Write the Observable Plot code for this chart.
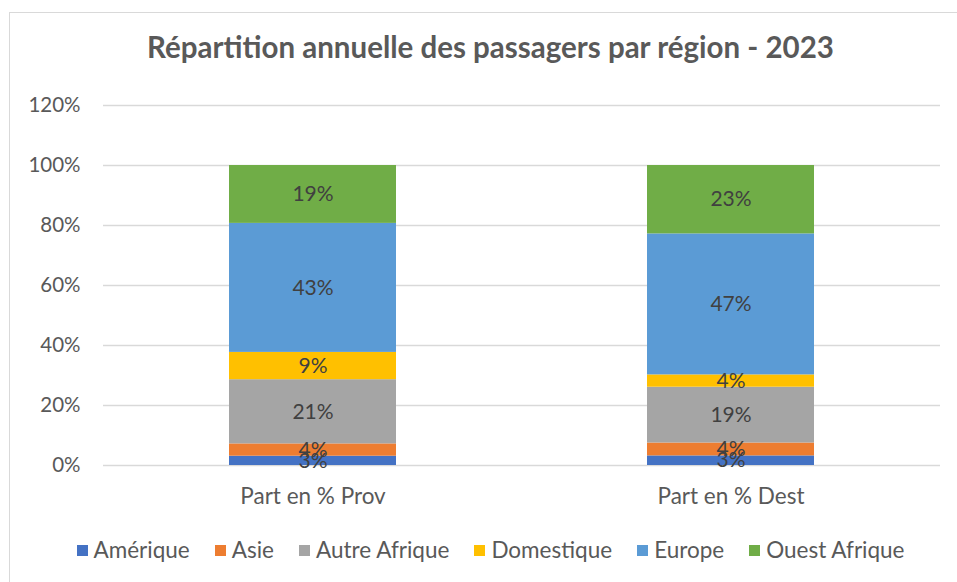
<!DOCTYPE html>
<html>
<head>
<meta charset="utf-8">
<script src="https://cdn.jsdelivr.net/npm/d3@7"></script>
<script src="https://cdn.jsdelivr.net/npm/@observablehq/plot@0.6"></script>
<style>
  html, body { margin: 0; padding: 0; background: #fff; }
  #wrap { position: relative; width: 957px; height: 582px; overflow: hidden; font-family: Lato, "Open Sans", sans-serif; }
  #frame { position: absolute; left: 9px; top: 12px; width: 1000px; height: 1000px; border-left: 1.5px solid #d9d9d9; border-top: 1.5px solid #d9d9d9; }
  #title { position: absolute; left: 0; width: 981px; top: 30px; text-align: center; font-size: 29.5px; line-height: 34px; font-weight: bold; color: #595959; }
  #chart { position: absolute; left: 0; top: 80px; }
  #legend { position: absolute; left: 0; width: 981px; top: 536px; display: flex; justify-content: center; gap: 25px; font-size: 22.5px; line-height: 28px; color: #595959; }
  .item { display: flex; align-items: center; gap: 6px; }
  .sw { width: 11px; height: 11px; display: inline-block; }
</style>
</head>
<body>
<div id="wrap">
  <div id="frame"></div>
  <div id="title">Répartition annuelle des passagers par région - 2023</div>
  <div id="chart"></div>
  <div id="legend"></div>
</div>
<script>
const categories = ["Part en % Prov", "Part en % Dest"];
const regions = ["Amérique", "Asie", "Autre Afrique", "Domestique", "Europe", "Ouest Afrique"];
const colors = ["#4472C4", "#ED7D31", "#A5A5A5", "#FFC000", "#5B9BD5", "#70AD47"];
const provValues = [3.1, 4.1, 21.4, 9.1, 43.0, 19.3];
const destValues = [3.2, 4.3, 18.6, 4.1, 47.0, 22.8];
const labelsProv = ["3%", "4%", "21%", "9%", "43%", "19%"];
const labelsDest = ["3%", "4%", "19%", "4%", "47%", "23%"];
const yTicks = [0, 20, 40, 60, 80, 100, 120];

const data = [];
regions.forEach((r, i) => {
  data.push({cat: categories[0], region: r, value: provValues[i], label: labelsProv[i]});
  data.push({cat: categories[1], region: r, value: destValues[i], label: labelsDest[i]});
});

const chart = Plot.plot({
  width: 957,
  height: 450,
  marginTop: 25,
  marginBottom: 65,
  marginLeft: 103,
  marginRight: 17,
  style: {background: "transparent", fontFamily: "Lato, 'Open Sans', sans-serif", fontSize: "20px", color: "#595959"},
  x: {domain: categories, paddingInner: 0.6, paddingOuter: 0.3, label: null},
  y: {domain: [0, 120], label: null},
  color: {domain: regions, range: colors},
  marks: [
    Plot.gridY(yTicks, {stroke: "#d9d9d9", strokeOpacity: 1, strokeWidth: 1.5}),
    Plot.barY(data, {x: "cat", y: "value", fill: "region", z: "region", order: regions}),
    Plot.text(data, Plot.stackY({x: "cat", y: "value", z: "region", order: regions, text: "label", fill: "#404040", fontSize: 21})),
    Plot.axisX({tickSize: 0, tickPadding: 23, fontSize: 22.5, fill: "#595959"}),
    Plot.axisY({ticks: yTicks, tickFormat: d => d + "%", tickSize: 0, tickPadding: 23, fontSize: 20.5, fill: "#595959"})
  ]
});
document.getElementById("chart").appendChild(chart);

const legend = document.getElementById("legend");
regions.forEach((r, i) => {
  const it = document.createElement("div");
  it.className = "item";
  const sw = document.createElement("span");
  sw.className = "sw";
  sw.style.background = colors[i];
  const t = document.createElement("span");
  t.textContent = r;
  it.appendChild(sw); it.appendChild(t);
  legend.appendChild(it);
});
</script>
</body>
</html>
